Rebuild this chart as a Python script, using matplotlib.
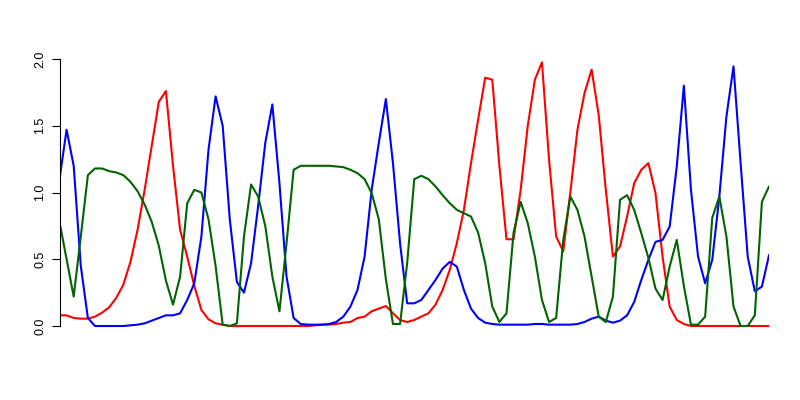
import numpy as np
import matplotlib
matplotlib.use("Agg")
import matplotlib.pyplot as plt

# values, index 0..100
red = [0.08, 0.08, 0.06, 0.055, 0.055, 0.07, 0.10, 0.14, 0.21, 0.31,
       0.48, 0.72, 1.02, 1.35, 1.68, 1.76, 1.20, 0.72, 0.52, 0.30,
       0.12, 0.05, 0.02, 0.01, 0.0, 0.0, 0.0, 0.0, 0.0, 0.0,
       0.0, 0.0, 0.0, 0.0, 0.0, 0.0, 0.005, 0.01, 0.01, 0.015,
       0.025, 0.03, 0.06, 0.07, 0.11, 0.13, 0.15, 0.095, 0.045, 0.03,
       0.045, 0.07, 0.095, 0.16, 0.27, 0.42, 0.62, 0.87, 1.22, 1.545,
       1.86, 1.845, 1.20, 0.65, 0.65, 1.02, 1.50, 1.845, 1.975, 1.245,
       0.67, 0.56, 1.0, 1.47, 1.745, 1.92, 1.58, 1.02, 0.52, 0.595,
       0.82, 1.07, 1.17, 1.22, 0.995, 0.52, 0.145, 0.045, 0.015, 0.0,
       0.0, 0.0, 0.0, 0.0, 0.0, 0.0, 0.0, 0.0, 0.0, 0.0,
       0.0]

blue = [1.10, 1.47, 1.20, 0.45, 0.06, 0.0, 0.0, 0.0, 0.0, 0.0,
        0.005, 0.01, 0.02, 0.04, 0.06, 0.08, 0.08, 0.095, 0.195, 0.32,
        0.67, 1.32, 1.72, 1.50, 0.80, 0.33, 0.25, 0.47, 0.90, 1.37,
        1.66, 1.07, 0.37, 0.06, 0.015, 0.01, 0.01, 0.01, 0.015, 0.03,
        0.07, 0.145, 0.27, 0.52, 1.02, 1.37, 1.70, 1.22, 0.62, 0.17,
        0.17, 0.195, 0.27, 0.345, 0.43, 0.48, 0.445, 0.27, 0.13, 0.06,
        0.025, 0.015, 0.01, 0.01, 0.01, 0.01, 0.01, 0.015, 0.015, 0.01,
        0.01, 0.01, 0.01, 0.015, 0.03, 0.055, 0.07, 0.04, 0.025, 0.04,
        0.08, 0.18, 0.345, 0.495, 0.63, 0.645, 0.745, 1.195, 1.80, 1.02,
        0.52, 0.32, 0.495, 0.97, 1.57, 1.945, 1.22, 0.52, 0.26, 0.295,
        0.53]

green = [0.78, 0.50, 0.22, 0.67, 1.13, 1.18, 1.18, 1.16, 1.15, 1.13,
         1.08, 1.01, 0.91, 0.78, 0.60, 0.34, 0.16, 0.37, 0.92, 1.02,
         1.0, 0.80, 0.45, 0.01, 0.0, 0.02, 0.67, 1.06, 0.97, 0.75,
         0.37, 0.11, 0.62, 1.17, 1.20, 1.20, 1.20, 1.20, 1.20, 1.195,
         1.19, 1.17, 1.145, 1.10, 0.995, 0.80, 0.35, 0.015, 0.015, 0.47,
         1.10, 1.125, 1.10, 1.045, 0.98, 0.92, 0.87, 0.845, 0.82, 0.70,
         0.47, 0.145, 0.03, 0.095, 0.70, 0.93, 0.77, 0.52, 0.195, 0.03,
         0.06, 0.645, 0.97, 0.87, 0.67, 0.37, 0.07, 0.03, 0.22, 0.945,
         0.98, 0.87, 0.695, 0.51, 0.28, 0.195, 0.445, 0.645, 0.30, 0.01,
         0.01, 0.07, 0.81, 0.97, 0.67, 0.145, 0.0, 0.0, 0.08, 0.93,
         1.045]

yticks = [0.0, 0.5, 1.0, 1.5, 2.0]
x = np.arange(len(red))

plt.rcParams['font.family'] = ['Liberation Sans', 'DejaVu Sans']

W, H = 800, 400
fig = plt.figure(figsize=(8, 4), dpi=100)
# plot region in pixels: x 59.5..769, y-zero at 326, 2.0 at 59
ppu = (326 - 59) / 2.0
ylo, yhi = -0.08, 2.054
top_px = 326 - yhi * ppu
bot_px = 326 - ylo * ppu
ax = fig.add_axes([59.5 / W, 1 - bot_px / H, (769 - 59.5) / W, (bot_px - top_px) / H])

ax.plot(x, red, color='red', lw=1.5)
ax.plot(x, blue, color='blue', lw=1.5)
ax.plot(x, green, color='#006400', lw=1.5)

ax.set_xlim(0, 100)
ax.set_ylim(ylo, yhi)
for s in ['top', 'right', 'bottom']:
    ax.spines[s].set_visible(False)
ax.spines['left'].set_bounds(0, 2)
ax.spines['left'].set_linewidth(0.8)
ax.set_xticks([])
ax.set_yticks(yticks)
ax.set_yticklabels(['%.1f' % v for v in yticks], rotation=90, va='center')
ax.tick_params(axis='y', length=5.5, width=0.8, pad=4, labelsize=9)

plt.savefig('out.png', dpi=100)
